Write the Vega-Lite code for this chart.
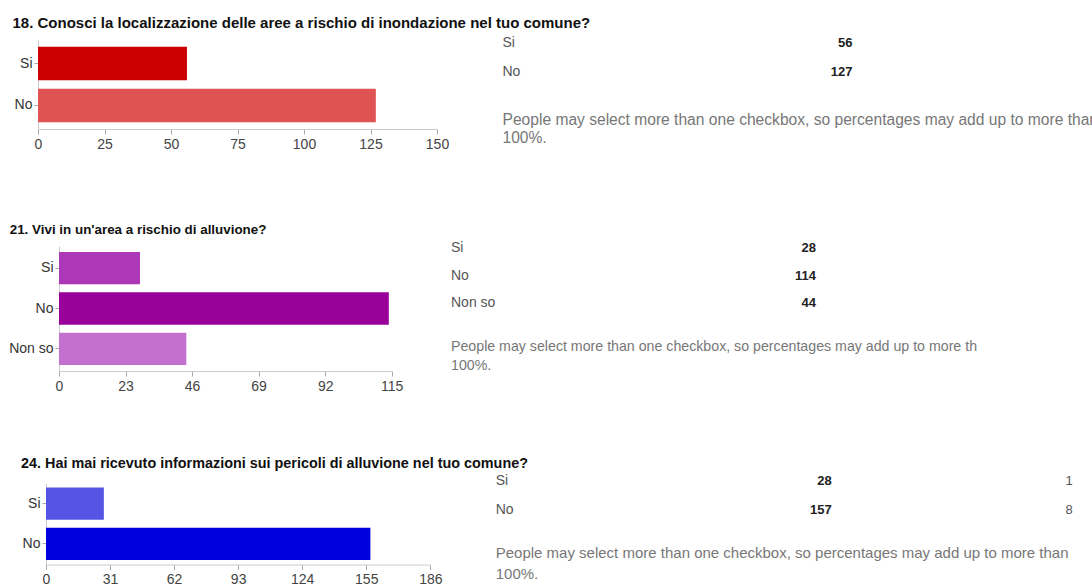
{
  "$schema": "https://vega.github.io/schema/vega-lite/v6.json",
  "background": "white",
  "autosize": {"type": "pad"},
  "padding": {"left": 8, "top": 16, "right": 0, "bottom": 0},
  "datasets": {
    "q18": [{"answer": "Si", "count": 56}, {"answer": "No", "count": 127}],
    "q21": [{"answer": "Si", "count": 28}, {"answer": "No", "count": 114}, {"answer": "Non so", "count": 44}],
    "q24": [{"answer": "Si", "count": 28, "pct": "1"}, {"answer": "No", "count": 157, "pct": "8"}],
    "blank": [{}]
  },
  "spacing": 20,
  "resolve": {"scale": {"color": "independent"}},
  "config": {
    "view": {"stroke": null},
    "font": "Liberation Sans, Arial, sans-serif",
    "axisX": {"title": null, "grid": false, "domainColor": "#cccccc", "tickColor": "#aaaaaa", "tickSize": 5, "labelPadding": 3, "labelFontSize": 14, "labelColor": "#444444", "labelFlush": false},
    "axisY": {"title": null, "grid": false, "domainColor": "#cccccc", "tickColor": "#aaaaaa", "tickSize": 4, "labelPadding": 2, "labelFontSize": 14, "labelColor": "#333333"}
  },
  "vconcat": [
    {
      "hconcat": [
        {"width": 10, "height": 163, "data": {"name": "blank"}, "mark": {"type": "text", "text": ""}, "encoding": {}},
        {
          "width": 399, "height": 89,
          "title": {"text": "18. Conosci la localizzazione delle aree a rischio di inondazione nel tuo comune?", "anchor": "start", "frame": "group", "dx": -25.5, "offset": -3, "baseline": "alphabetic", "fontSize": 15, "fontWeight": "bold", "color": "#111111"},
          "data": {"name": "q18"},
          "mark": {"type": "bar"},
          "encoding": {
            "y": {"field": "answer", "type": "nominal", "sort": ["Si", "No"], "scale": {"paddingInner": 0.2, "paddingOuter": 0.16}},
            "x": {"field": "count", "type": "quantitative", "scale": {"domain": [0, 150], "nice": false}, "axis": {"values": [0, 25, 50, 75, 100, 125, 150]}},
            "color": {"field": "answer", "type": "nominal", "scale": {"domain": ["Si", "No"], "range": ["#cc0000", "#df5353"]}, "legend": null}
          }
        },
        {
          "width": 420, "height": 29,
          "title": {"text": ["People may select more than one checkbox, so percentages may add up to more than", "100%."], "orient": "bottom", "anchor": "start", "frame": "group", "dx": 65.5, "offset": 34, "baseline": "top", "fontSize": 15.6, "fontWeight": "normal", "color": "#777777", "lineHeight": 18},
          "data": {"name": "q18"},
          "encoding": {"y": {"field": "answer", "type": "nominal", "sort": ["Si", "No"], "scale": {"type": "point", "padding": 0}, "axis": null}},
          "layer": [
            {"mark": {"type": "text", "align": "left", "baseline": "middle", "dy": 3, "fontSize": 14, "color": "#555555"}, "encoding": {"x": {"value": 65.5}, "text": {"field": "answer"}}},
            {"mark": {"type": "text", "align": "right", "baseline": "middle", "dy": 3, "fontSize": 13, "fontWeight": "bold", "color": "#222222"}, "encoding": {"x": {"value": 415.5}, "text": {"field": "count"}}}
          ]
        }
      ],
      "spacing": 0,
      "bounds": "flush",
      "resolve": {"scale": {"color": "independent"}}
    },
    {
      "hconcat": [
        {"width": 30.8, "height": 190, "data": {"name": "blank"}, "mark": {"type": "text", "text": ""}, "encoding": {}},
        {
          "width": 332.7, "height": 125,
          "title": {"text": "21. Vivi in un'area a rischio di alluvione?", "anchor": "start", "frame": "group", "dx": -49.3, "offset": -1.4, "baseline": "alphabetic", "fontSize": 13.4, "fontWeight": "bold", "color": "#111111"},
          "data": {"name": "q21"},
          "mark": {"type": "bar"},
          "encoding": {
            "y": {"field": "answer", "type": "nominal", "sort": ["Si", "No", "Non so"], "scale": {"paddingInner": 0.2, "paddingOuter": 0.15}},
            "x": {"field": "count", "type": "quantitative", "scale": {"domain": [0, 115], "nice": false}, "axis": {"values": [0, 23, 46, 69, 92, 115]}},
            "color": {"field": "answer", "type": "nominal", "scale": {"domain": ["Si", "No", "Non so"], "range": ["#ac38b8", "#990099", "#c470cf"]}, "legend": null}
          }
        },
        {
          "width": 430, "height": 55,
          "title": {"text": ["People may select more than one checkbox, so percentages may add up to more th", "100%."], "orient": "bottom", "anchor": "start", "frame": "group", "dx": 59, "offset": 30, "baseline": "top", "fontSize": 14.2, "fontWeight": "normal", "color": "#777777", "lineHeight": 19},
          "data": {"name": "q21"},
          "encoding": {"y": {"field": "answer", "type": "nominal", "sort": ["Si", "No", "Non so"], "scale": {"type": "point", "padding": 0}, "axis": null}},
          "layer": [
            {"mark": {"type": "text", "align": "left", "baseline": "middle", "dy": 2, "fontSize": 14, "color": "#555555"}, "encoding": {"x": {"value": 59}, "text": {"field": "answer"}}},
            {"mark": {"type": "text", "align": "right", "baseline": "middle", "dy": 2, "fontSize": 13, "fontWeight": "bold", "color": "#222222"}, "encoding": {"x": {"value": 424}, "text": {"field": "count"}}}
          ]
        }
      ],
      "spacing": 0,
      "bounds": "flush",
      "resolve": {"scale": {"color": "independent"}}
    },
    {
      "hconcat": [
        {"width": 17.5, "height": 10, "data": {"name": "blank"}, "mark": {"type": "text", "text": ""}, "encoding": {}},
        {
          "width": 384.3, "height": 81.5,
          "title": {"text": "24. Hai mai ricevuto informazioni sui pericoli di alluvione nel tuo comune?", "anchor": "start", "frame": "group", "dx": -25, "offset": 0.6, "baseline": "alphabetic", "fontSize": 14.4, "fontWeight": "bold", "color": "#111111"},
          "data": {"name": "q24"},
          "mark": {"type": "bar"},
          "encoding": {
            "y": {"field": "answer", "type": "nominal", "sort": ["Si", "No"], "scale": {"paddingInner": 0.2, "paddingOuter": 0.11}},
            "x": {"field": "count", "type": "quantitative", "scale": {"domain": [0, 186], "nice": false}, "axis": {"values": [0, 31, 62, 93, 124, 155, 186]}},
            "color": {"field": "answer", "type": "nominal", "scale": {"domain": ["Si", "No"], "range": ["#5555e5", "#0000dc"]}, "legend": null}
          }
        },
        {
          "width": 650, "height": 29,
          "title": {"text": ["People may select more than one checkbox, so percentages may add up to more than", "100%."], "orient": "bottom", "anchor": "start", "frame": "group", "dx": 64.7, "offset": 29.5, "baseline": "top", "fontSize": 15, "fontWeight": "normal", "color": "#777777", "lineHeight": 21},
          "data": {"name": "q24"},
          "encoding": {"y": {"field": "answer", "type": "nominal", "sort": ["Si", "No"], "scale": {"type": "point", "padding": 0}, "axis": null}},
          "layer": [
            {"mark": {"type": "text", "align": "left", "baseline": "middle", "dy": -2.5, "fontSize": 14, "color": "#555555"}, "encoding": {"x": {"value": 64.7}, "text": {"field": "answer"}}},
            {"mark": {"type": "text", "align": "right", "baseline": "middle", "dy": -2.5, "fontSize": 13, "fontWeight": "bold", "color": "#222222"}, "encoding": {"x": {"value": 400.7}, "text": {"field": "count"}}},
            {"mark": {"type": "text", "align": "right", "baseline": "middle", "dy": -2.5, "fontSize": 13, "color": "#555555"}, "encoding": {"x": {"value": 641.7}, "text": {"field": "pct"}}}
          ]
        }
      ],
      "spacing": 0,
      "bounds": "flush",
      "resolve": {"scale": {"color": "independent"}}
    }
  ]
}
